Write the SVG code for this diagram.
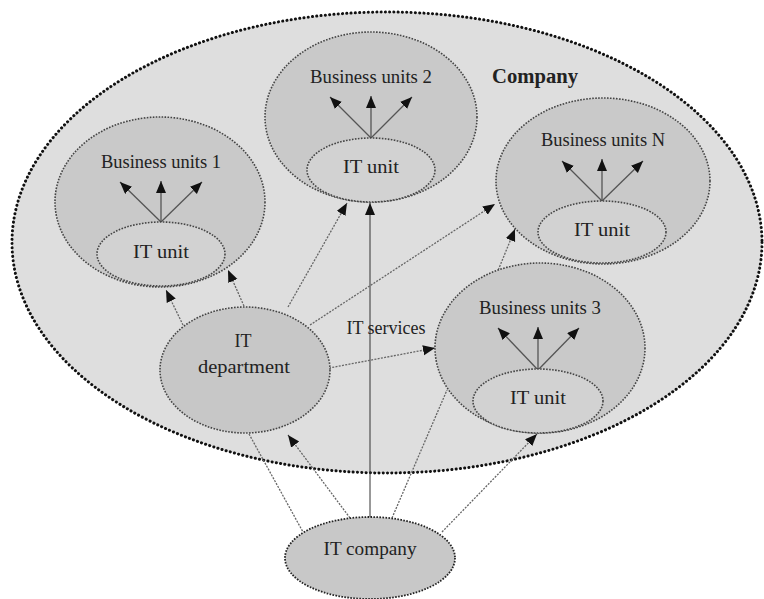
<svg xmlns="http://www.w3.org/2000/svg" width="764" height="599" viewBox="0 0 764 599">
<style>
  .outer { fill: #dedede; stroke: #111; stroke-width: 3; stroke-dasharray: 0.1 4.2; stroke-linecap: round; }
  .bu { fill: #c9c9c9; stroke: #444; stroke-width: 1.6; stroke-dasharray: 1.6 1.4; }
  .itu { fill: #d2d2d2; stroke: #444; stroke-width: 1.6; stroke-dasharray: 1.6 1.4; }
  .dept { fill: #c7c7c7; stroke: #444; stroke-width: 1.6; stroke-dasharray: 1.6 1.4; }
  .itc { fill: #c8c8c8; stroke: #222; stroke-width: 1.8; stroke-dasharray: 1.6 1.4; }
  .lbl { font-family: "Liberation Serif", "Times New Roman", serif; font-size: 18px; fill: #222; text-anchor: middle; }
  .title { font-family: "Liberation Serif", "Times New Roman", serif; font-size: 20px; font-weight: bold; fill: #222; }
  .inner { stroke: #555; stroke-width: 1.3; fill: none; marker-end: url(#ah); }
  .dot { stroke: #666; stroke-width: 1.3; stroke-dasharray: 2 1.3; fill: none; }
  .solid { stroke: #333; stroke-width: 1; fill: none; }
</style>
<defs>
  <marker id="ah" markerUnits="userSpaceOnUse" markerWidth="13" markerHeight="11" refX="12" refY="5" orient="auto">
    <path d="M0,0 L12,5 L0,10 z" fill="#111"/>
  </marker>
</defs>
<rect width="764" height="599" fill="#ffffff"/>

<g id="company">
  <ellipse class="outer" cx="387" cy="242.5" rx="375" ry="230.5"/>
  <text class="title" x="492" y="83" textLength="86" lengthAdjust="spacingAndGlyphs">Company</text>
</g>

<g id="connectors">
  <line class="solid" x1="370" y1="517" x2="370" y2="203" marker-end="url(#ah)"/>
  <line class="dot" x1="183" y1="325" x2="166" y2="290" marker-end="url(#ah)"/>
  <line class="dot" x1="244" y1="306" x2="228" y2="270" marker-end="url(#ah)"/>
  <line class="dot" x1="288" y1="307" x2="347" y2="203" marker-end="url(#ah)"/>
  <line class="dot" x1="310" y1="325" x2="495" y2="204" marker-end="url(#ah)"/>
  <line class="dot" x1="329" y1="368" x2="435" y2="348" marker-end="url(#ah)"/>
  <line class="dot" x1="497" y1="273" x2="515" y2="229" marker-end="url(#ah)"/>
  <line class="dot" x1="249" y1="434" x2="303" y2="532"/>
  <line class="dot" x1="350" y1="518" x2="288" y2="435" marker-end="url(#ah)"/>
  <line class="dot" x1="392" y1="518" x2="447" y2="390"/>
  <line class="dot" x1="442" y1="532" x2="537" y2="434" marker-end="url(#ah)"/>
  <text class="lbl" x="386" y="334">IT services</text>
</g>

<g id="bu1">
  <ellipse class="bu" cx="160" cy="202" rx="105" ry="85"/>
  <text class="lbl" x="161" y="168" textLength="120" lengthAdjust="spacingAndGlyphs">Business units 1</text>
  <line class="inner" x1="161" y1="222" x2="120" y2="182"/>
  <line class="inner" x1="161" y1="222" x2="161" y2="181"/>
  <line class="inner" x1="161" y1="222" x2="202" y2="182"/>
  <ellipse class="itu" cx="161" cy="254" rx="64" ry="32"/>
  <text class="lbl" x="161" y="258" textLength="56" lengthAdjust="spacingAndGlyphs">IT unit</text>
</g>

<g id="bu2">
  <ellipse class="bu" cx="371" cy="117" rx="106" ry="85"/>
  <text class="lbl" x="371" y="83" textLength="122" lengthAdjust="spacingAndGlyphs">Business units 2</text>
  <line class="inner" x1="371" y1="138" x2="330" y2="97"/>
  <line class="inner" x1="371" y1="138" x2="371" y2="96"/>
  <line class="inner" x1="371" y1="138" x2="412" y2="97"/>
  <ellipse class="itu" cx="371" cy="170" rx="64" ry="32"/>
  <text class="lbl" x="371" y="173" textLength="56" lengthAdjust="spacingAndGlyphs">IT unit</text>
</g>

<g id="bun">
  <ellipse class="bu" cx="603" cy="181" rx="107" ry="83"/>
  <text class="lbl" x="603" y="146" textLength="124" lengthAdjust="spacingAndGlyphs">Business units N</text>
  <line class="inner" x1="602" y1="201" x2="562" y2="161"/>
  <line class="inner" x1="602" y1="201" x2="602" y2="159"/>
  <line class="inner" x1="602" y1="201" x2="643" y2="161"/>
  <ellipse class="itu" cx="602" cy="232" rx="64" ry="31"/>
  <text class="lbl" x="602" y="236" textLength="56" lengthAdjust="spacingAndGlyphs">IT unit</text>
</g>

<g id="bu3">
  <ellipse class="bu" cx="540" cy="348" rx="105" ry="85"/>
  <text class="lbl" x="540" y="314" textLength="122" lengthAdjust="spacingAndGlyphs">Business units 3</text>
  <line class="inner" x1="538" y1="370" x2="498" y2="328"/>
  <line class="inner" x1="538" y1="370" x2="538" y2="327"/>
  <line class="inner" x1="538" y1="370" x2="579" y2="328"/>
  <ellipse class="itu" cx="538" cy="401" rx="65" ry="32"/>
  <text class="lbl" x="538" y="404" textLength="56" lengthAdjust="spacingAndGlyphs">IT unit</text>
</g>

<g id="it-department">
  <ellipse class="dept" cx="245" cy="370" rx="85" ry="63"/>
  <text class="lbl" x="243" y="347">IT</text>
  <text class="lbl" x="244" y="373" textLength="92" lengthAdjust="spacingAndGlyphs">department</text>
</g>

<g id="it-company">
  <ellipse class="itc" cx="370" cy="558" rx="85" ry="41"/>
  <text class="lbl" x="370" y="555" textLength="93" lengthAdjust="spacingAndGlyphs">IT company</text>
</g>
</svg>
